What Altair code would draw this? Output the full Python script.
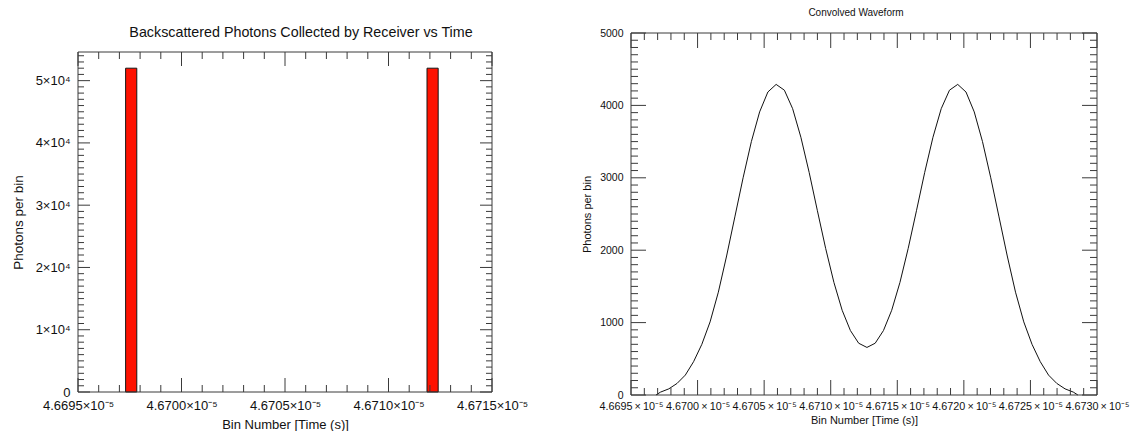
import altair as alt
import pandas as pd

# ---------------- data ----------------
# Left panel: histogram bins that received photons (all other bins are empty)
bin_start = [4.669730e-5, 4.671186e-5]
bin_end = [4.669784e-5, 4.671240e-5]
photons = [52000, 52000]

# Right panel: convolved waveform (time in s, photons per bin)
wave_time = [
    4.6696875e-5, 4.669722e-5, 4.669784e-5, 4.669846e-5, 4.669908e-5, 4.669970e-5,
    4.670032e-5, 4.670094e-5, 4.670156e-5, 4.670218e-5, 4.670280e-5, 4.670342e-5,
    4.670404e-5, 4.670466e-5, 4.670528e-5, 4.670590e-5, 4.670652e-5, 4.670714e-5,
    4.670776e-5, 4.670838e-5, 4.670900e-5, 4.670962e-5, 4.671024e-5, 4.671086e-5,
    4.671148e-5, 4.671210e-5, 4.671272e-5, 4.671334e-5, 4.671396e-5, 4.671458e-5,
    4.671520e-5, 4.671582e-5, 4.671644e-5, 4.671706e-5, 4.671768e-5, 4.671830e-5,
    4.671892e-5, 4.671954e-5, 4.672016e-5, 4.672078e-5, 4.672140e-5, 4.672202e-5,
    4.672264e-5, 4.672326e-5, 4.672388e-5, 4.672450e-5, 4.672512e-5, 4.672574e-5,
    4.672636e-5, 4.672698e-5, 4.672760e-5, 4.672822e-5, 4.6728565e-5,
]
wave_photons = [
    0, 40, 85, 160, 275, 460,
    700, 1010, 1420, 1920, 2460, 3000,
    3500, 3910, 4185, 4290, 4210, 3955,
    3560, 3075, 2545, 2025, 1555, 1170,
    890, 715, 657, 715, 890, 1170,
    1555, 2025, 2545, 3075, 3560, 3955,
    4210, 4290, 4185, 3910, 3500, 3000,
    2460, 1920, 1420, 1010, 700, 460,
    275, 160, 85, 40, 0,
]

# tick positions
x1_major = [4.6695e-5, 4.6700e-5, 4.6705e-5, 4.6710e-5, 4.6715e-5]
x1_minor = [round(4.6695e-5 + i * 1e-9, 14) for i in range(1, 20) if i % 5]
y1_major = [0, 10000, 20000, 30000, 40000, 50000]
y1_minor = [v for v in range(1000, 55000, 1000) if v % 10000]
x2_major = [round(4.6695e-5 + i * 5e-9, 14) for i in range(8)]
x2_minor = [round(4.6695e-5 + i * 1e-9, 14) for i in range(1, 35) if i % 5]
y2_major = [0, 1000, 2000, 3000, 4000, 5000]
y2_minor = [v for v in range(100, 5000, 100) if v % 1000]

title_left = "Backscattered Photons Collected by Receiver vs Time"
title_right = "Convolved Waveform"
x_title = "Bin Number [Time (s)]"
y_title = "Photons per bin"

FONT = "Liberation Sans"
AX = "#3a3a3a"
TXT = "#111111"

# ---------------- geometry ----------------
W1, H1 = 414, 362
TOP1, BOT1 = 19, 359
W2, H2 = 466, 362
TOP2, BOT2 = 0, 362

xs1 = alt.Scale(domain=[4.6695e-5, 4.6715e-5], nice=False, zero=False)
ys1 = alt.Scale(domain=[0, 54600], nice=False, zero=False, range=[BOT1, TOP1])
xs2 = alt.Scale(domain=[4.6695e-5, 4.6730e-5], nice=False, zero=False)
ys2 = alt.Scale(domain=[0, 5000], nice=False, zero=False)

ax1x = alt.Axis(
    values=x1_major, labelExpr="format(datum.value*1e5, '.4f') + '×10⁻⁵'",
    labelFontSize=13, labelPadding=4, labelFlush=False, labelOverlap=False,
    title=x_title, titleFontSize=13, titleY=29, titleBaseline="middle")
ax1y = alt.Axis(
    values=y1_major,
    labelExpr="datum.value == 0 ? '0' : format(datum.value/1e4, 'd') + '×10⁴'",
    labelFontSize=13, labelPadding=8, labelOverlap=False,
    title=y_title, titleFontSize=13.5, titleX=-60, titleY=(TOP1 + BOT1) / 2,
    titleBaseline="middle", titleAlign="center")
ax2x = alt.Axis(
    values=x2_major,
    labelExpr="format(datum.value*1e5, '.4f') + '\u2009×\u200910⁻⁵'",
    labelFontSize=10.8, labelPadding=5, labelFlush=False, labelOverlap=False,
    title=x_title, titleFontSize=11, titleY=25, titleBaseline="middle")
ax2y = alt.Axis(
    values=y2_major, format="d",
    labelFontSize=10.5, labelPadding=8, labelOverlap=False,
    title=y_title, titleFontSize=11, titleX=-44, titleY=H2 / 2,
    titleBaseline="middle", titleAlign="center")


def xticks(values, scale, axis, y0, y1):
    df = pd.DataFrame({"v": values})
    return alt.Chart(df).mark_rule(color=AX, strokeWidth=1).encode(
        x=alt.X("v:Q", scale=scale, axis=axis),
        y=alt.value(y0), y2=alt.value(y1))


def yticks(values, scale, axis, x0, x1):
    df = pd.DataFrame({"v": values})
    return alt.Chart(df).mark_rule(color=AX, strokeWidth=1).encode(
        y=alt.Y("v:Q", scale=scale, axis=axis),
        x=alt.value(x0), x2=alt.value(x1))


def frame(w, top, bot):
    one = pd.DataFrame({"k": [0]})
    base = alt.Chart(one).mark_rule(color=AX, strokeWidth=1)
    return [
        base.encode(x=alt.value(0), x2=alt.value(w), y=alt.value(top)),
        base.encode(x=alt.value(0), x2=alt.value(w), y=alt.value(bot)),
        base.encode(x=alt.value(0), y=alt.value(top), y2=alt.value(bot)),
        base.encode(x=alt.value(w), y=alt.value(top), y2=alt.value(bot)),
    ]


def title_mark(text, x, y, size):
    return alt.Chart(pd.DataFrame({"t": [text]})).mark_text(
        font=FONT, fontSize=size, color=TXT, align="center", baseline="middle"
    ).encode(text="t:N", x=alt.value(x), y=alt.value(y))


# ---------------- left panel ----------------
bars_df = pd.DataFrame({"start": bin_start, "end": bin_end, "photons": photons})
bars = alt.Chart(bars_df).mark_rect(color="#fe1200", stroke="#151515", strokeWidth=1).encode(
    x=alt.X("start:Q", scale=xs1, axis=ax1x),
    x2="end:Q",
    y=alt.Y("photons:Q", scale=ys1, axis=ax1y),
    y2=alt.datum(0),
)

left = alt.layer(
    bars,
    xticks(x1_major, xs1, ax1x, BOT1, BOT1 - 14),
    xticks(x1_minor, xs1, ax1x, BOT1, BOT1 - 7),
    xticks(x1_major, xs1, ax1x, TOP1, TOP1 + 14),
    xticks(x1_minor, xs1, ax1x, TOP1, TOP1 + 7),
    yticks(y1_major, ys1, ax1y, 0, 12),
    yticks(y1_minor, ys1, ax1y, 0, 6),
    yticks(y1_major, ys1, ax1y, W1, W1 - 12),
    yticks(y1_minor, ys1, ax1y, W1, W1 - 6),
    *frame(W1, TOP1, BOT1),
    title_mark(title_left, W1 / 2 + 16, 0, 14.3),
).properties(width=W1, height=H1)

# ---------------- right panel ----------------
wave_df = pd.DataFrame({"time": wave_time, "photons": wave_photons})
line = alt.Chart(wave_df).mark_line(color="#111111", strokeWidth=1).encode(
    x=alt.X("time:Q", scale=xs2, axis=ax2x),
    y=alt.Y("photons:Q", scale=ys2, axis=ax2y),
)

right = alt.layer(
    line,
    xticks(x2_major, xs2, ax2x, BOT2, BOT2 - 15),
    xticks(x2_minor, xs2, ax2x, BOT2, BOT2 - 7),
    xticks(x2_major, xs2, ax2x, TOP2, TOP2 + 15),
    xticks(x2_minor, xs2, ax2x, TOP2, TOP2 + 7),
    yticks(y2_major, ys2, ax2y, 0, 15),
    yticks(y2_minor, ys2, ax2y, 0, 7),
    yticks(y2_major, ys2, ax2y, W2, W2 - 15),
    yticks(y2_minor, ys2, ax2y, W2, W2 - 7),
    *frame(W2, TOP2, BOT2),
    title_mark(title_right, W2 / 2 - 8, -20, 10),
).properties(width=W2, height=H2)

chart = alt.hconcat(left, right, spacing=139, bounds="flush").properties(
    padding={"left": 11, "top": 8, "right": 0, "bottom": 0},
    background="white",
).configure_view(stroke=None).configure_axis(
    grid=False, domain=False, ticks=False, tickSize=0,
    labelFont=FONT, titleFont=FONT, labelColor=TXT, titleColor=TXT,
    titleFontWeight="normal",
)

chart.save("out.html", embed_options={"renderer": "svg", "actions": False})
